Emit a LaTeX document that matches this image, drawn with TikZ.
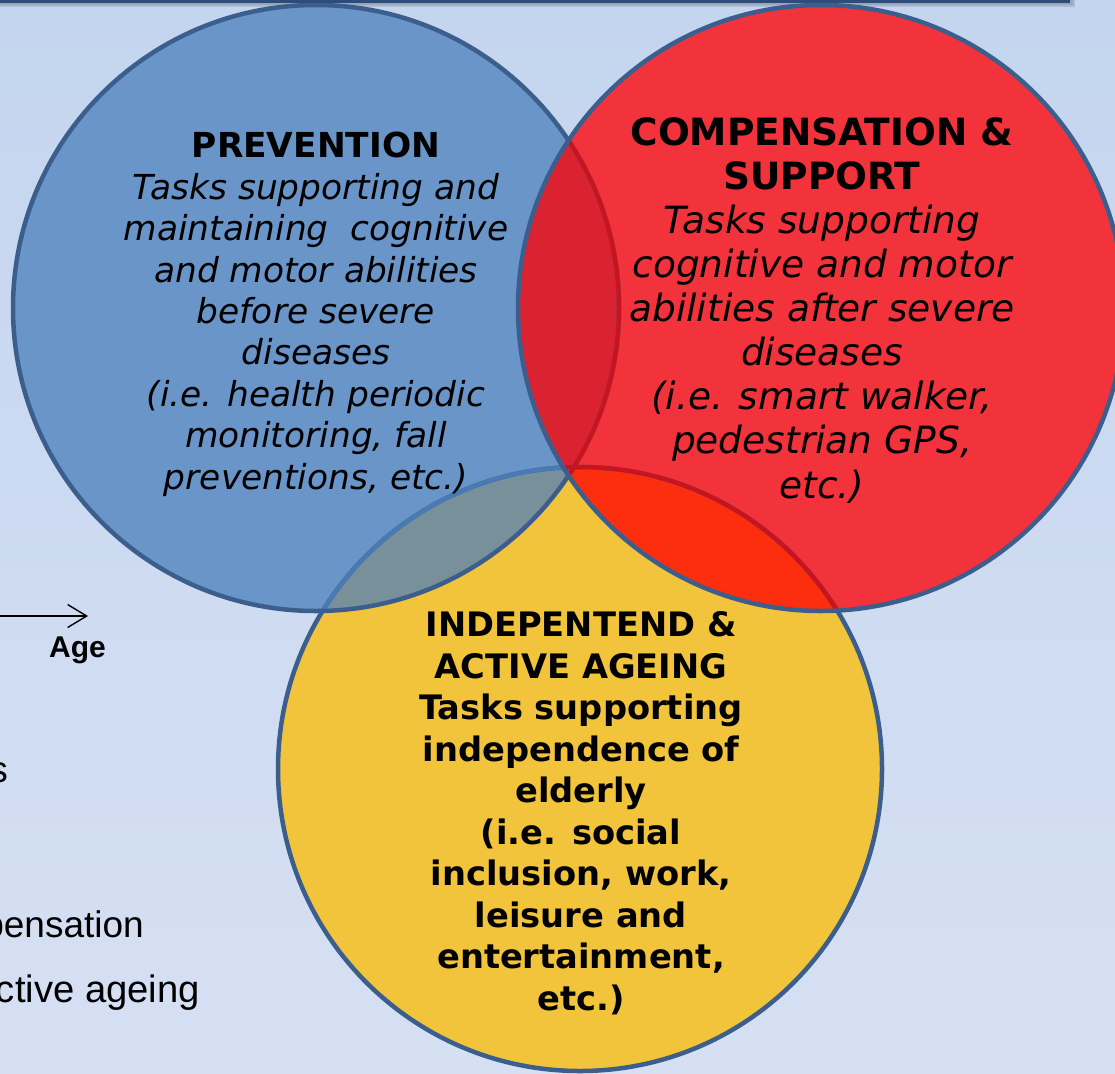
\documentclass[tikz,border=0pt]{standalone}
\usepackage{fontspec}
\usetikzlibrary{arrows.meta}
\newfontfamily\dvs{DejaVu Sans}
\newfontfamily\arl{Liberation Sans}
\definecolor{bgtop}{RGB}{196,213,239}
\definecolor{bgbot}{RGB}{214,224,243}
\definecolor{barblue}{RGB}{44,76,124}
\definecolor{bord}{RGB}{59,94,141}
\definecolor{lightbord}{RGB}{74,122,180}
\definecolor{darkredline}{RGB}{201,20,31}
\definecolor{bluefill}{RGB}{106,149,200}
\definecolor{redfill}{RGB}{242,51,60}
\definecolor{yelfill}{RGB}{242,196,60}
\definecolor{lensbr}{RGB}{218,34,48}
\definecolor{lensby}{RGB}{120,144,154}
\definecolor{lensry}{RGB}{252,46,14}
\tikzset{
  ring/.style={line width=4.5pt},
  blocktxt/.style={align=center, inner sep=0pt, anchor=base, text=black},
  legtxt/.style={inner sep=0pt, anchor=base east, font=\arl\fontsize{37}{40}\selectfont}
}
\begin{document}
\begin{tikzpicture}[x=1pt,y=-1pt]
\useasboundingbox (0,0) rectangle (1115,1073);
\clip (0,0) rectangle (1115,1073);
\shade[top color=bgtop, bottom color=bgbot] (0,0) rectangle (1115,1073);
% top bar with shadow
\fill[black, opacity=0.12] (-10,-10) rectangle (1075,7);
\fill[black, opacity=0.10] (-10,-10) rectangle (1073,5);
\fill[barblue] (-10,-10) rectangle (1070,3);
% centres
\coordinate (B) at (316,308);
\coordinate (R) at (821,308);
\coordinate (Y) at (580,769);
% fills
\fill[yelfill] (Y) circle[radius=302pt];
\fill[bluefill] (B) circle[radius=303pt];
\fill[redfill] (R) circle[radius=303pt];
\begin{scope}
  \clip (B) circle[radius=303pt];
  \fill[lensby] (Y) circle[radius=302pt];
  \fill[lensbr] (R) circle[radius=303pt];
\end{scope}
\begin{scope}
  \clip (R) circle[radius=303pt];
  \fill[lensry] (Y) circle[radius=302pt];
\end{scope}
% borders
\draw[ring, bord] (Y) circle[radius=302pt];
\begin{scope}
  \clip (B) circle[radius=303pt];
  \draw[ring, lightbord] (Y) circle[radius=302pt];
\end{scope}
\begin{scope}
  \clip (R) circle[radius=303pt];
  \draw[ring, darkredline] (Y) circle[radius=302pt];
\end{scope}
\draw[ring, bord] (B) circle[radius=303pt];
\begin{scope}
  \clip (R) circle[radius=303pt];
  \draw[ring, darkredline] (B) circle[radius=303pt];
\end{scope}
\draw[ring, bord] (R) circle[radius=303pt];
% texts (anchor = baseline of last line)
\node[blocktxt, font=\dvs\fontsize{34.4}{41.4}\selectfont] (prev) at (316,489)
  {\textbf{PREVENTION}\\ \itshape Tasks supporting and\\ \itshape maintaining~ cognitive\\ \itshape and motor abilities\\ \itshape before severe\\ \itshape diseases\\ \itshape (i.e. health periodic\\ \itshape monitoring, fall\\ \itshape preventions, etc.)};
\node[blocktxt, font=\dvs\fontsize{37.5}{44.1}\selectfont] (comp) at (822,498)
  {\textbf{COMPENSATION \&}\\ \textbf{SUPPORT}\\ \itshape Tasks supporting\\ \itshape cognitive and motor\\ \itshape abilities after severe\\ \itshape diseases\\ \itshape (i.e. smart walker,\\ \itshape pedestrian GPS,\\ \itshape etc.)};
\node[blocktxt, font=\dvs\bfseries\fontsize{33.7}{41.5}\selectfont] (indep) at (581,1010)
  {INDEPENTEND \&\\ ACTIVE AGEING\\ Tasks supporting\\ independence of\\ elderly\\ (i.e. social\\ inclusion, work,\\ leisure and\\ entertainment,\\ etc.)};
% age arrow
\coordinate (a0) at (-10,616);
\coordinate (a1) at (88,616);
\draw[line width=1.4pt, -{Straight Barb[length=19pt,width=23pt,line width=1.4pt]}] (a0) -- (a1);
\node[inner sep=0pt, anchor=base west, font=\arl\bfseries\fontsize{30}{34}\selectfont] (age) at (49,657) {Age};
\node[legtxt] (l1) at (8,782) {s};
\node[legtxt] (l2) at (144,937) {pensation};
\node[legtxt, font=\arl\fontsize{38.2}{40}\selectfont] (l3) at (200,1002) {ctive ageing};
\end{tikzpicture}
\end{document}
